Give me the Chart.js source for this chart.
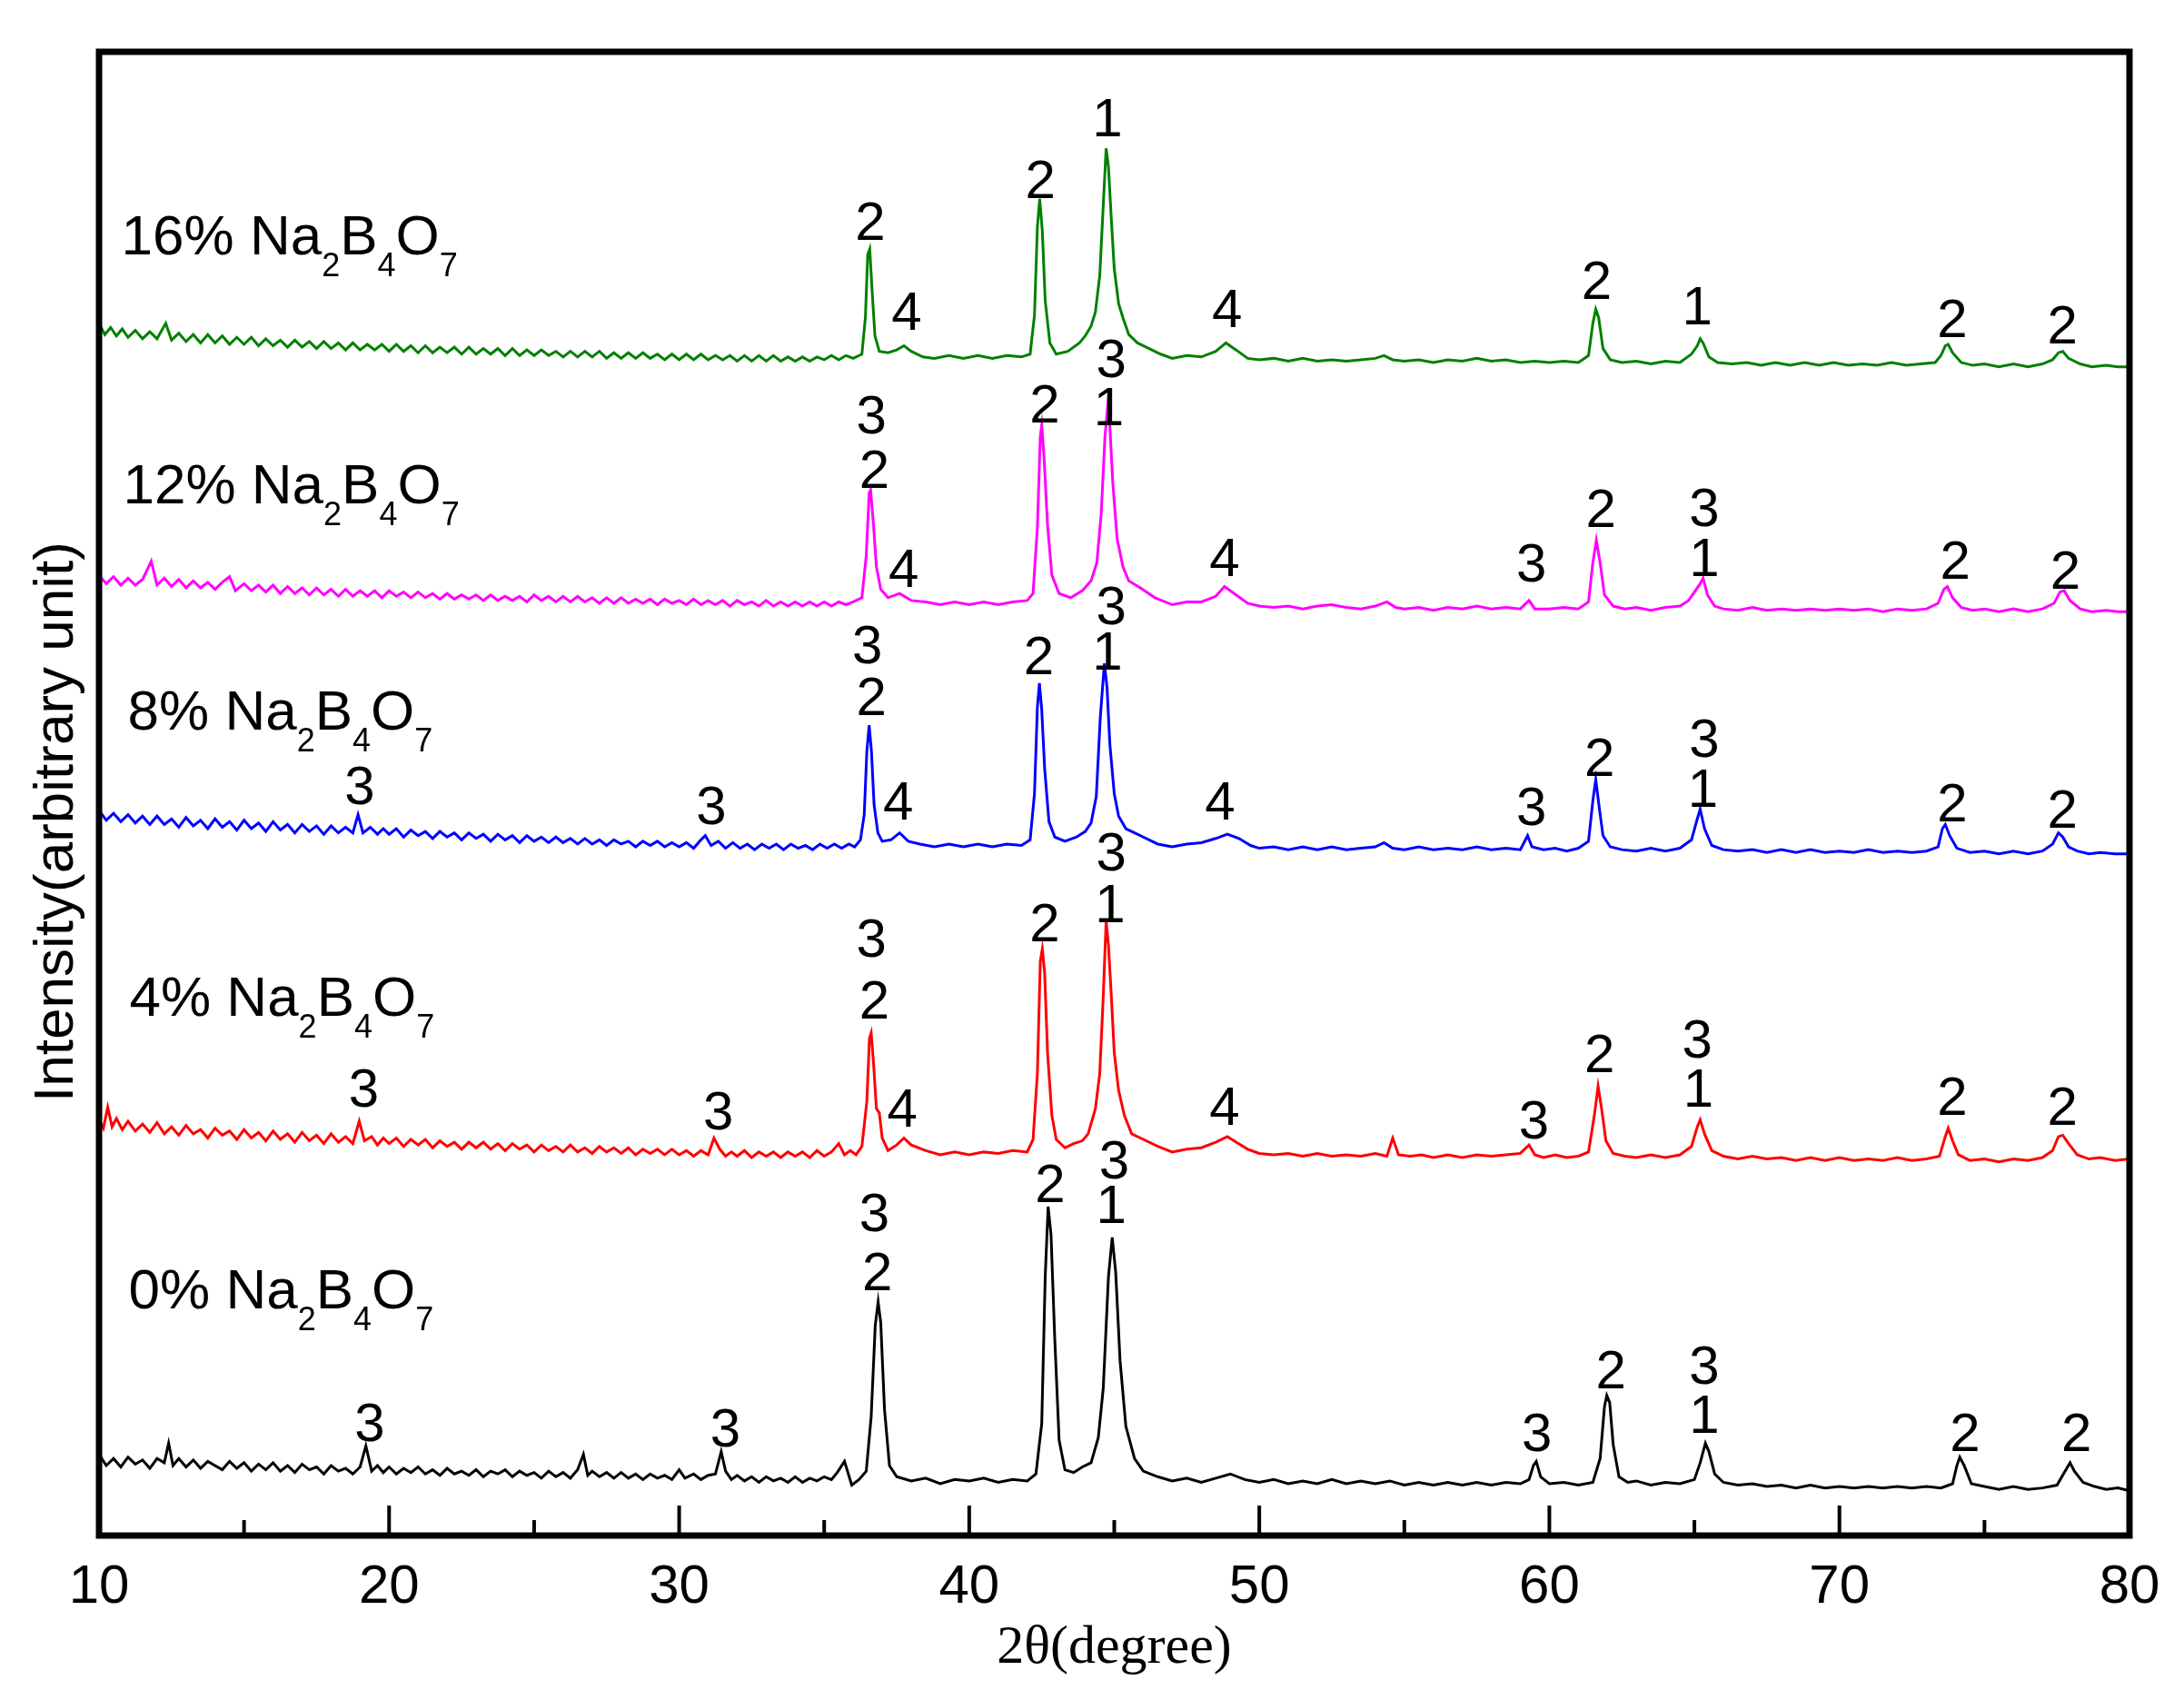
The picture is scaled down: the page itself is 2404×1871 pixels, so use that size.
<!DOCTYPE html>
<html>
<head>
<meta charset="utf-8">
<script src="https://cdn.jsdelivr.net/npm/chart.js@4.4.1/dist/chart.umd.min.js"></script>
<style>
html,body{margin:0;padding:0;background:#fff;}
#wrap{width:2404px;height:1871px;}
canvas{display:block;}
</style>
</head>
<body>
<div id="wrap"><canvas id="c" width="2404" height="1871"></canvas></div>
<script>
// ---- data: [2θ (degree), intensity (arbitrary units, stacked)] ----
const xTicksMajor = [10, 20, 30, 40, 50, 60, 70, 80];
const xTicksMinor = [15, 25, 35, 45, 55, 65, 75];
const seriesNames = ['0%', '4%', '8%', '12%', '16%'];
const seriesColors = ['#000000', '#ff0000', '#0000ff', '#ff00ff', '#008000'];

const s0 = [[10,58],[10.25,50],[10.5,55],[10.75,49],[11,56],[11.25,51],[11.5,54],[11.75,48],[12,55],[12.25,52],[12.4,66],[12.55,50],[12.75,55],[13,49],[13.25,54],[13.5,48],[13.75,53],[14,50],[14.25,47],[14.5,53],[14.75,48],[15,52],[15.25,46],[15.5,51],[15.75,47],[16,52],[16.25,46],[16.5,50],[16.75,45],[17,51],[17.25,47],[17.5,49],[17.75,44],[18,50],[18.25,46],[18.5,48],[18.75,44],[19,49],[19.2,64],[19.4,46],[19.6,50],[19.8,45],[20,49],[20.25,44],[20.5,48],[20.75,45],[21,49],[21.25,44],[21.5,47],[21.75,43],[22,48],[22.25,44],[22.5,46],[22.75,43],[23,47],[23.25,42],[23.5,46],[23.75,44],[24,47],[24.25,42],[24.5,46],[24.75,43],[25,45],[25.25,41],[25.5,46],[25.75,42],[26,45],[26.25,41],[26.5,47],[26.7,58],[26.85,43],[27,46],[27.25,42],[27.5,45],[27.75,41],[28,45],[28.25,41],[28.5,44],[28.75,40],[29,44],[29.25,41],[29.5,43],[29.75,40],[30,47],[30.2,41],[30.5,44],[30.75,40],[31,43],[31.25,44],[31.45,60],[31.6,46],[31.8,40],[32,43],[32.25,39],[32.5,42],[32.75,38],[33,42],[33.25,39],[33.5,41],[33.75,38],[34,42],[34.25,38],[34.5,41],[34.75,39],[35,42],[35.25,40],[35.45,45],[35.7,53],[35.95,36],[36.2,40],[36.45,46],[36.62,85],[36.76,150],[36.86,167],[36.95,152],[37.08,90],[37.25,50],[37.5,42],[38,39],[38.5,41],[39,37],[39.5,40],[40,39],[40.5,41],[41,38],[41.5,40],[42,39],[42.3,44],[42.5,80],[42.62,185],[42.72,235],[42.82,215],[42.95,140],[43.1,68],[43.3,47],[43.6,45],[43.9,49],[44.2,52],[44.45,70],[44.62,105],[44.8,185],[44.93,213],[45.05,188],[45.2,125],[45.4,78],[45.7,55],[46,46],[46.5,42],[47,39],[47.5,41],[48,38],[48.5,41],[49,44],[49.5,40],[50,38],[50.5,40],[51,37],[51.5,39],[52,37],[52.5,40],[53,37],[53.5,39],[54,37],[54.5,39],[55,36],[55.5,38],[56,36],[56.5,38],[57,36],[57.5,38],[58,36],[58.5,38],[59,37],[59.3,40],[59.45,50],[59.55,53],[59.7,42],[60,37],[60.5,38],[61,36],[61.5,38],[61.75,55],[61.9,92],[61.98,100],[62.08,95],[62.2,65],[62.4,42],[62.7,38],[63,39],[63.5,36],[64,38],[64.5,37],[65,40],[65.2,52],[65.38,66],[65.5,60],[65.7,44],[66,38],[66.5,36],[67,37],[67.5,35],[68,36],[68.5,34],[69,36],[69.5,34],[70,35],[70.5,34],[71,35],[71.5,34],[72,35],[72.5,34],[73,35],[73.5,34],[73.9,37],[74.05,50],[74.15,56],[74.3,50],[74.55,37],[75,35],[75.5,33],[76,35],[76.5,33],[77,34],[77.5,36],[77.75,45],[77.95,52],[78.1,46],[78.4,38],[78.8,35],[79.2,33],[79.6,34],[80,32]];

const s4pct = [[10,297],[10.15,291],[10.3,306],[10.45,292],[10.6,298],[10.8,290],[11,296],[11.25,289],[11.5,294],[11.75,288],[12,295],[12.25,287],[12.5,292],[12.75,286],[13,293],[13.25,287],[13.5,290],[13.75,284],[14,291],[14.25,286],[14.5,289],[14.75,283],[15,290],[15.25,284],[15.5,288],[15.75,282],[16,289],[16.25,283],[16.5,287],[16.75,281],[17,288],[17.25,282],[17.5,286],[17.75,280],[18,287],[18.25,281],[18.5,285],[18.75,280],[18.97,296],[19.15,282],[19.4,285],[19.6,279],[19.8,284],[20,280],[20.25,284],[20.5,278],[20.75,283],[21,279],[21.25,283],[21.5,277],[21.75,282],[22,278],[22.25,281],[22.5,276],[22.75,281],[23,277],[23.25,281],[23.5,276],[23.75,280],[24,275],[24.25,280],[24.5,276],[24.75,279],[25,274],[25.25,279],[25.5,275],[25.75,278],[26,274],[26.25,279],[26.5,274],[26.75,277],[27,273],[27.25,278],[27.5,274],[27.75,277],[28,273],[28.25,277],[28.5,272],[28.75,276],[29,273],[29.25,276],[29.5,272],[29.75,276],[30,272],[30.25,275],[30.5,271],[30.75,275],[31,272],[31.2,284],[31.4,276],[31.6,271],[31.8,274],[32,271],[32.25,275],[32.5,270],[32.75,274],[33,271],[33.25,274],[33.5,270],[33.75,274],[34,271],[34.25,274],[34.5,270],[34.75,275],[35,271],[35.25,274],[35.5,280],[35.7,272],[35.9,275],[36.1,272],[36.3,278],[36.47,310],[36.56,355],[36.62,359],[36.7,338],[36.8,305],[36.9,302],[37,284],[37.2,275],[37.5,279],[37.75,284],[38,279],[38.5,275],[39,272],[39.5,274],[40,272],[40.5,274],[41,273],[41.5,275],[42,274],[42.2,283],[42.35,330],[42.45,410],[42.52,419],[42.6,402],[42.7,345],[42.85,300],[43,283],[43.3,277],[43.6,280],[43.9,282],[44.1,287],[44.35,305],[44.5,330],[44.62,385],[44.72,439],[44.8,422],[44.9,385],[45,345],[45.15,318],[45.35,300],[45.6,287],[46,283],[46.5,278],[47,274],[47.5,276],[48,277],[48.5,281],[48.9,285],[49.2,281],[49.6,276],[50,273],[50.5,272],[51,273],[51.5,271],[52,273],[52.5,271],[53,272],[53.5,271],[54,273],[54.4,271],[54.6,284],[54.8,272],[55.2,271],[55.6,272],[56,270],[56.5,272],[57,270],[57.5,272],[58,271],[58.5,272],[59,273],[59.3,279],[59.5,272],[59.8,270],[60.2,272],[60.6,270],[61,271],[61.35,274],[61.55,300],[61.68,321],[61.8,305],[61.95,282],[62.2,273],[62.6,271],[63,270],[63.5,272],[64,270],[64.5,272],[64.9,278],[65.1,292],[65.2,297],[65.35,287],[65.6,275],[66,271],[66.5,269],[67,271],[67.5,269],[68,270],[68.5,268],[69,270],[69.5,268],[70,270],[70.5,268],[71,269],[71.5,268],[72,270],[72.5,268],[73,269],[73.45,271],[73.65,285],[73.75,291],[73.9,282],[74.1,272],[74.5,268],[75,269],[75.5,267],[76,269],[76.5,268],[77,270],[77.35,275],[77.55,285],[77.7,286],[77.9,280],[78.2,272],[78.6,269],[79,270],[79.5,268],[80,269]];

const s8pct = [[10,518],[10.25,511],[10.5,516],[10.75,510],[11,515],[11.25,509],[11.5,514],[11.75,508],[12,514],[12.25,508],[12.5,512],[12.75,506],[13,513],[13.25,507],[13.5,511],[13.75,505],[14,512],[14.25,506],[14.5,510],[14.75,504],[15,511],[15.25,505],[15.5,509],[15.75,503],[16,510],[16.25,504],[16.5,508],[16.75,502],[17,508],[17.25,503],[17.5,507],[17.75,501],[18,507],[18.25,502],[18.5,506],[18.75,502],[18.93,515],[19.1,502],[19.35,506],[19.6,501],[19.8,505],[20,501],[20.25,505],[20.5,499],[20.75,504],[21,500],[21.25,503],[21.5,498],[21.75,503],[22,499],[22.25,502],[22.5,497],[22.75,502],[23,498],[23.25,501],[23.5,496],[23.75,501],[24,497],[24.25,500],[24.5,495],[24.75,500],[25,496],[25.25,499],[25.5,495],[25.75,499],[26,495],[26.25,498],[26.5,494],[26.75,498],[27,494],[27.25,497],[27.5,493],[27.75,497],[28,494],[28.25,496],[28.5,492],[28.75,496],[29,493],[29.25,496],[29.5,492],[29.75,495],[30,492],[30.25,495],[30.5,491],[30.75,497],[30.9,500],[31.1,493],[31.35,496],[31.6,491],[31.85,495],[32.1,491],[32.35,494],[32.6,490],[32.85,494],[33.1,491],[33.35,494],[33.6,490],[33.85,494],[34.1,491],[34.35,493],[34.6,490],[34.85,494],[35.1,491],[35.35,494],[35.6,491],[35.85,494],[36.05,492],[36.25,497],[36.38,515],[36.47,560],[36.55,579],[36.63,560],[36.72,522],[36.85,502],[37,496],[37.3,497],[37.6,502],[37.9,496],[38.3,494],[38.8,492],[39.3,494],[39.8,492],[40.3,494],[40.8,492],[41.3,494],[41.8,493],[42.1,497],[42.25,530],[42.35,592],[42.42,609],[42.5,590],[42.6,548],[42.75,510],[42.95,499],[43.3,496],[43.7,499],[44,503],[44.2,509],[44.38,528],[44.52,585],[44.66,623],[44.75,606],[44.85,565],[45,530],[45.15,514],[45.4,505],[45.7,502],[46,499],[46.5,494],[47,492],[47.5,494],[48,495],[48.5,498],[48.9,501],[49.3,498],[49.7,493],[50,491],[50.5,492],[51,490],[51.5,492],[52,490],[52.5,492],[53,490],[53.5,491],[54,492],[54.3,495],[54.6,491],[55,490],[55.5,492],[56,490],[56.5,491],[57,490],[57.5,492],[58,490],[58.5,491],[59,490],[59.25,500],[59.4,492],[59.8,490],[60.2,491],[60.6,489],[61,491],[61.35,496],[61.5,525],[61.6,540],[61.72,520],[61.85,500],[62.1,492],[62.5,490],[63,489],[63.5,491],[64,489],[64.5,491],[64.9,497],[65.1,512],[65.2,519],[65.35,505],[65.6,493],[66,490],[66.5,489],[67,490],[67.5,488],[68,490],[68.5,488],[69,490],[69.5,488],[70,489],[70.5,488],[71,490],[71.5,488],[72,489],[72.5,488],[73,489],[73.4,492],[73.55,505],[73.65,508],[73.8,500],[74.05,491],[74.5,488],[75,489],[75.5,487],[76,489],[76.5,487],[77,489],[77.35,494],[77.55,502],[77.7,499],[77.9,492],[78.2,489],[78.6,487],[79,488],[79.5,487],[80,487]];

const s12pct = [[10,686],[10.25,680],[10.5,685],[10.75,679],[11,684],[11.25,679],[11.5,683],[11.8,696],[12,679],[12.25,684],[12.5,678],[12.75,683],[13,677],[13.25,682],[13.5,677],[13.75,681],[14,676],[14.25,681],[14.5,685],[14.7,675],[15,680],[15.25,675],[15.5,679],[15.75,674],[16,679],[16.25,673],[16.5,678],[16.75,673],[17,677],[17.25,672],[17.5,677],[17.75,672],[18,676],[18.25,671],[18.5,676],[18.75,671],[19,675],[19.25,671],[19.5,675],[19.75,670],[20,675],[20.25,671],[20.5,674],[20.75,670],[21,674],[21.25,670],[21.5,673],[21.75,669],[22,673],[22.25,669],[22.5,672],[22.75,669],[23,672],[23.25,668],[23.5,672],[23.75,668],[24,671],[24.25,668],[24.5,671],[24.75,667],[25,672],[25.25,668],[25.5,671],[25.75,667],[26,671],[26.25,667],[26.5,671],[26.75,667],[27,670],[27.25,666],[27.5,670],[27.75,666],[28,670],[28.25,666],[28.5,669],[28.75,666],[29,669],[29.25,665],[29.5,669],[29.75,666],[30,668],[30.25,665],[30.5,669],[30.75,665],[31,668],[31.25,665],[31.5,668],[31.75,664],[32,668],[32.25,665],[32.5,667],[32.75,664],[33,668],[33.25,664],[33.5,667],[33.75,664],[34,667],[34.25,664],[34.5,667],[34.75,664],[35,667],[35.25,664],[35.5,667],[35.75,665],[36,667],[36.3,670],[36.45,700],[36.55,745],[36.6,747],[36.7,722],[36.8,692],[36.95,676],[37.2,670],[37.6,673],[38,668],[38.5,667],[39,665],[39.5,667],[40,665],[40.5,667],[41,665],[41.5,667],[42,668],[42.2,673],[42.35,720],[42.45,785],[42.5,793],[42.58,770],[42.7,722],[42.85,686],[43.1,673],[43.5,670],[43.9,675],[44.2,682],[44.4,695],[44.55,730],[44.68,785],[44.77,806],[44.85,792],[44.95,752],[45.1,712],[45.3,692],[45.5,682],[45.9,677],[46.4,670],[47,665],[47.5,667],[48,667],[48.5,671],[48.8,678],[49.2,672],[49.6,666],[50,664],[50.5,663],[51,664],[51.5,662],[52,664],[52.5,665],[53,663],[53.5,662],[54,664],[54.4,667],[54.7,663],[55,662],[55.5,663],[56,661],[56.5,663],[57,662],[57.5,664],[58,662],[58.5,663],[59,662],[59.3,668],[59.5,662],[60,662],[60.5,663],[61,662],[61.35,667],[61.5,695],[61.62,711],[61.75,695],[61.9,672],[62.2,664],[62.6,662],[63,663],[63.5,661],[64,663],[64.5,664],[64.8,668],[65,674],[65.2,680],[65.3,684],[65.45,672],[65.7,664],[66,662],[66.5,661],[67,663],[67.5,661],[68,662],[68.5,661],[69,662],[69.5,661],[70,662],[70.5,661],[71,662],[71.5,660],[72,662],[72.5,661],[73,662],[73.4,666],[73.6,676],[73.72,678],[73.9,670],[74.2,663],[74.6,661],[75,662],[75.5,660],[76,662],[76.5,660],[77,662],[77.4,666],[77.6,674],[77.75,675],[77.95,668],[78.3,662],[78.7,660],[79.2,661],[79.6,660],[80,660]];

const s16pct = [[10,866],[10.2,858],[10.4,863],[10.6,857],[10.8,862],[11,856],[11.25,861],[11.5,855],[11.75,860],[12,855],[12.3,866],[12.5,854],[12.75,859],[13,853],[13.25,858],[13.5,852],[13.75,858],[14,852],[14.25,857],[14.5,851],[14.75,856],[15,851],[15.25,856],[15.5,850],[15.75,855],[16,850],[16.25,854],[16.5,849],[16.75,854],[17,849],[17.25,853],[17.5,848],[17.75,853],[18,848],[18.25,852],[18.5,847],[18.75,852],[19,847],[19.25,851],[19.5,847],[19.75,851],[20,846],[20.25,851],[20.5,846],[20.75,850],[21,845],[21.25,850],[21.5,845],[21.75,849],[22,845],[22.25,849],[22.5,844],[22.75,849],[23,844],[23.25,848],[23.5,844],[23.75,848],[24,843],[24.25,848],[24.5,843],[24.75,847],[25,843],[25.25,847],[25.5,843],[25.75,846],[26,842],[26.25,846],[26.5,842],[26.75,846],[27,842],[27.25,846],[27.5,841],[27.75,845],[28,841],[28.25,845],[28.5,841],[28.75,845],[29,841],[29.25,844],[29.5,840],[29.75,844],[30,840],[30.25,844],[30.5,840],[30.75,844],[31,840],[31.25,843],[31.5,840],[31.75,843],[32,839],[32.25,843],[32.5,839],[32.75,843],[33,839],[33.25,843],[33.5,839],[33.75,842],[34,839],[34.25,842],[34.5,839],[34.75,842],[35,840],[35.25,843],[35.5,840],[35.75,843],[36,841],[36.3,844],[36.42,870],[36.5,915],[36.57,919],[36.65,890],[36.75,857],[36.9,846],[37.2,845],[37.5,847],[37.75,850],[38,846],[38.4,842],[38.8,841],[39.3,843],[39.8,841],[40.3,843],[40.8,841],[41.3,843],[41.8,842],[42.1,844],[42.25,872],[42.35,935],[42.43,955],[42.52,932],[42.62,882],[42.78,852],[43,844],[43.4,846],[43.8,852],[44,857],[44.2,864],[44.35,874],[44.5,900],[44.62,950],[44.72,991],[44.8,978],[44.9,940],[45,905],[45.15,880],[45.3,870],[45.5,858],[45.8,852],[46.2,848],[46.6,844],[47,841],[47.5,843],[48,842],[48.5,846],[48.85,852],[49.2,847],[49.6,841],[50,840],[50.5,841],[51,839],[51.5,841],[52,839],[52.5,840],[53,839],[53.5,840],[54,841],[54.3,843],[54.6,840],[55,839],[55.5,840],[56,838],[56.5,840],[57,839],[57.5,841],[58,839],[58.5,840],[59,838],[59.5,839],[60,838],[60.5,839],[61,838],[61.35,843],[61.5,866],[61.6,876],[61.7,870],[61.85,848],[62.1,840],[62.5,838],[63,839],[63.5,837],[64,839],[64.5,838],[64.9,844],[65.1,850],[65.2,855],[65.3,852],[65.5,842],[65.8,838],[66.3,837],[66.8,838],[67.3,836],[67.8,838],[68.3,836],[68.8,838],[69.3,836],[69.8,838],[70.3,836],[70.8,837],[71.3,836],[71.8,838],[72.3,836],[72.8,837],[73.3,838],[73.5,843],[73.65,850],[73.75,851],[73.9,845],[74.2,838],[74.6,836],[75,837],[75.5,835],[76,837],[76.5,835],[77,837],[77.35,840],[77.55,845],[77.7,846],[77.9,841],[78.3,837],[78.7,835],[79.2,836],[79.6,835],[80,835]];

const seriesData = [s0, s4pct, s8pct, s12pct, s16pct];

// series captions: [2θ of left edge, intensity of baseline]
const captionAnchors = [[11.02,162.6],[11.05,371.6],[10.99,575.5],[10.83,737.6],[10.77,915.3]];

// phase labels: [2θ, intensity, text]
const peakLabels = [
  // 16%
  [36.59,939,'2'],[37.84,875,'4'],[42.45,969,'2'],[44.76,1013,'1'],[48.89,877,'4'],[61.63,897,'2'],[65.10,879,'1'],[73.89,870,'2'],[77.69,865,'2'],
  // 12%
  [36.63,801,'3'],[36.73,762,'2'],[37.74,691,'4'],[42.6,809,'2'],[44.9,841,'3'],[44.81,807,'1'],[48.8,699,'4'],[59.38,695,'3'],[61.78,734,'2'],[65.34,735,'3'],[65.34,699,'1'],[73.99,697,'2'],[77.79,690,'2'],
  // 8%
  [18.99,536,'3'],[31.11,522,'3'],[36.49,637,'3'],[36.63,600,'2'],[37.55,525,'4'],[42.4,629,'2'],[44.9,665,'3'],[44.76,632,'1'],[48.65,525,'4'],[59.38,521,'3'],[61.73,556,'2'],[65.34,570,'3'],[65.29,534,'1'],[73.89,524,'2'],[77.69,519,'2'],
  // 4%
  [19.13,320,'3'],[31.35,304,'3'],[36.63,427,'3'],[36.73,383,'2'],[37.69,306,'4'],[42.6,438,'2'],[44.9,489,'3'],[44.86,452,'1'],[48.8,307,'4'],[59.47,297,'3'],[61.73,345,'2'],[65.1,355,'3'],[65.14,320,'1'],[73.89,314,'2'],[77.69,307,'2'],
  // 0%
  [19.33,81,'3'],[31.59,77,'3'],[36.73,231,'3'],[36.83,189,'2'],[42.79,252,'2'],[45.0,269,'3'],[44.9,237,'1'],[59.57,74,'3'],[62.12,119,'2'],[65.34,122,'3'],[65.34,87,'1'],[74.33,74,'2'],[78.17,74,'2']
];

const xTitle = '2\u03b8(degree)';
const yTitle = 'Intensity(arbitrary unit)';

// ---- drawing ----
const SANS = "'Liberation Sans', Arial, Helvetica, sans-serif";
const SERIF = "'Liberation Serif', 'Times New Roman', serif";

const decor = {
  id: 'decor',
  afterDatasetsDraw(chart) {
    const {ctx, chartArea: a, scales} = chart;
    const xs = scales.x, ys = scales.y;
    ctx.save();
    ctx.strokeStyle = '#000';
    ctx.lineCap = 'butt';
    // inward ticks
    ctx.lineWidth = 4;
    for (const t of xTicksMajor) {
      const px = xs.getPixelForValue(t);
      ctx.beginPath(); ctx.moveTo(px, a.bottom); ctx.lineTo(px, a.bottom - 33); ctx.stroke();
    }
    for (const t of xTicksMinor) {
      const px = xs.getPixelForValue(t);
      ctx.beginPath(); ctx.moveTo(px, a.bottom); ctx.lineTo(px, a.bottom - 17); ctx.stroke();
    }
    // frame
    ctx.lineWidth = 7;
    ctx.strokeRect(a.left, a.top, a.right - a.left, a.bottom - a.top);

    // peak labels
    ctx.fillStyle = '#000';
    ctx.font = '60px ' + SANS;
    ctx.textAlign = 'center';
    ctx.textBaseline = 'alphabetic';
    for (const [d, v, t] of peakLabels) {
      ctx.fillText(t, xs.getPixelForValue(d), ys.getPixelForValue(v) + 21);
    }

    // series captions with subscripts
    ctx.textAlign = 'left';
    captionAnchors.forEach(([d, v], i) => {
      let px = xs.getPixelForValue(d);
      const py = ys.getPixelForValue(v);
      const parts = [[seriesNames[i] + ' Na', 0], ['2', 1], ['B', 0], ['4', 1], ['O', 0], ['7', 1]];
      for (const [txt, sub] of parts) {
        ctx.font = (sub ? '36px ' : '62px ') + SANS;
        ctx.fillText(txt, px, py + (sub ? 24 : 0));
        px += ctx.measureText(txt).width;
      }
    });

    // y title
    ctx.save();
    ctx.font = '62px ' + SANS;
    ctx.textAlign = 'center';
    ctx.translate(80, (a.top + a.bottom) / 2 + 31);
    ctx.rotate(-Math.PI / 2);
    ctx.fillText(yTitle, 0, 0);
    ctx.restore();

    ctx.restore();
  }
};

new Chart(document.getElementById('c'), {
  type: 'line',
  data: {
    datasets: seriesData.map((d, i) => ({
      label: seriesNames[i] + ' Na2B4O7',
      data: d,
      borderColor: seriesColors[i],
      backgroundColor: seriesColors[i],
      borderWidth: 3,
      pointRadius: 0,
      tension: 0,
      fill: false
    }))
  },
  options: {
    responsive: false,
    devicePixelRatio: 1,
    animation: false,
    layout: { padding: { top: 57, left: 0, right: 60, bottom: 0 } },
    plugins: { legend: { display: false }, tooltip: { enabled: false } },
    scales: {
      x: {
        type: 'linear',
        min: 10, max: 80,
        grid: { display: false, drawTicks: false },
        border: { display: false },
        ticks: {
          stepSize: 10,
          color: '#000',
          font: { family: SANS, size: 60 },
          padding: 21,
          maxRotation: 0,
          autoSkip: false
        },
        title: {
          display: true,
          text: xTitle,
          color: '#000',
          font: { family: SERIF, size: 60 },
          padding: { top: 0, bottom: 21 }
        },
        afterFit(scale) {
          scale.height = 1871 - 1690;
          scale.paddingLeft = 0;
          scale.paddingRight = 0;
        }
      },
      y: {
        type: 'linear',
        min: 0, max: 1060,
        grid: { display: false, drawTicks: false },
        border: { display: false },
        ticks: { display: false },
        afterFit(scale) { scale.width = 109; }
      }
    }
  },
  plugins: [decor]
});
</script>
</body>
</html>
